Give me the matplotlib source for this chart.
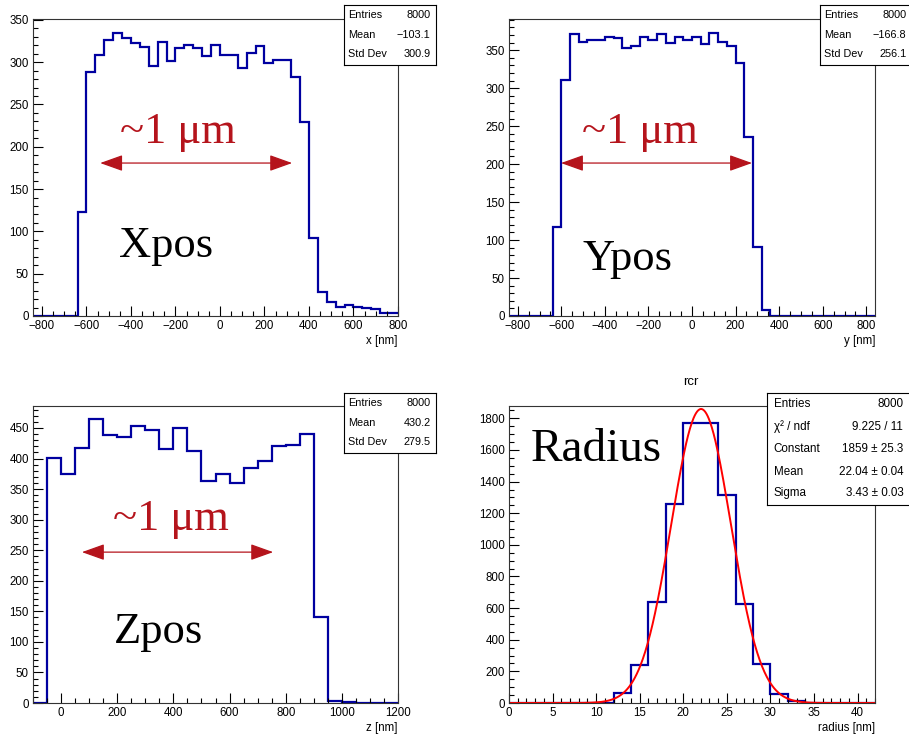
import numpy as np
import matplotlib
matplotlib.use("Agg")
import matplotlib.pyplot as plt
from matplotlib.ticker import MultipleLocator

plt.rcParams['font.family'] = ['Liberation Sans', 'DejaVu Sans']

# --- histogram contents ---
x_edges = np.arange(-840, 801, 40)
x_counts = [0, 0, 0, 0, 0,
            123, 288, 309, 326, 334, 329, 323, 318, 295, 324, 301, 317, 320,
            317, 307, 320, 309, 308, 293, 311, 319, 299, 302, 303, 282, 229,
            92, 28, 16, 11, 12.5, 10.6, 10, 8, 3, 3]

y_edges = np.arange(-840, 841, 40)
y_counts = [0, 0, 0, 0, 0,
            117.5, 310.5, 371.5, 361, 362.7, 364, 367, 366, 352.6, 356, 367,
            363.6, 370.6, 358.8, 367, 362.7, 367, 358, 372.8, 361, 355, 333,
            236, 91, 8,
            0, 0, 0, 0, 0, 0, 0, 0, 0, 0, 0, 0]

z_edges = np.arange(-100, 1201, 50)
z_counts = [0, 401, 375, 418, 464, 439, 436, 453, 447, 415, 450, 412, 364,
            375, 360, 385, 396, 421, 423, 441, 140, 3, 1, 0, 0, 0]

r_edges = np.arange(0, 43, 2)
r_counts = [0, 0, 0, 0, 0, 3, 61, 240, 636, 1257, 1773, 1773, 1318, 627,
            244, 59, 10, 0, 0, 0, 0]

# gaussian fit parameters (from the stats box)
fit_const, fit_mean, fit_sigma = 1859, 22.04, 3.43

stats_x = [("Entries", "8000"), ("Mean", "\u2212103.1"), ("Std Dev", "300.9")]
stats_y = [("Entries", "8000"), ("Mean", "\u2212166.8"), ("Std Dev", "256.1")]
stats_z = [("Entries", "8000"), ("Mean", "430.2"), ("Std Dev", "279.5")]
stats_r = [("Entries", "8000"), ("\u03c7\u00b2 / ndf", "9.225 / 11"),
           ("Constant", "1859 \u00b1 25.3"), ("Mean", "22.04 \u00b1 0.04"),
           ("Sigma", "3.43 \u00b1 0.03")]

W, H = 909, 734
fig = plt.figure(figsize=(W / 100, H / 100), dpi=100)

HIST_COL = '#0000a0'
ARROW_COL = '#b5141c'
SERIF = ['Liberation Serif', 'DejaVu Serif']


def px_axes(left, top, right, bottom, **kw):
    return fig.add_axes([left / W, 1 - bottom / H, (right - left) / W, (bottom - top) / H], **kw)


def style(ax, xmaj, xmin, ymaj, ymin, xlab):
    ax.xaxis.set_major_locator(MultipleLocator(xmaj))
    ax.xaxis.set_minor_locator(MultipleLocator(xmin))
    ax.yaxis.set_major_locator(MultipleLocator(ymaj))
    ax.yaxis.set_minor_locator(MultipleLocator(ymin))
    ax.tick_params(which='both', direction='in', top=False, right=False,
                   labelsize=8.3, width=0.8, colors='black')
    ax.tick_params(which='major', length=7, pad=3)
    ax.tick_params(which='minor', length=3.5)
    for s in ax.spines.values():
        s.set_color('#333333')
        s.set_linewidth(0.8)
    ax.text(1.0, -0.085, xlab, transform=ax.transAxes, ha='right', va='center', fontsize=8.3)


def stats_box(left, top, right, bottom, rows, fs, ys):
    b = px_axes(left, top, right, bottom)
    b.set_xticks([])
    b.set_yticks([])
    for s in b.spines.values():
        s.set_color('black')
        s.set_linewidth(0.8)
    for (name, val), yy in zip(rows, ys):
        b.text(0.045, yy, name, transform=b.transAxes, ha='left', va='center', fontsize=fs)
        b.text(0.94, yy, val, transform=b.transAxes, ha='right', va='center', fontsize=fs)


def width_arrow(ax, x0, x1, y):
    ax.annotate('', xy=(x0, y), xytext=(x1, y), xycoords='axes fraction',
                textcoords='axes fraction',
                arrowprops=dict(arrowstyle='<|-|>,head_length=1.4,head_width=0.5',
                                color=ARROW_COL, lw=0.9, shrinkA=0, shrinkB=0,
                                mutation_scale=10))


def labels(ax, tx, ty, name, nx, ny, fs=32):
    ax.text(tx, ty, '~1 \u03bcm', transform=ax.transAxes, ha='left', va='baseline',
            fontsize=fs, color=ARROW_COL, family=SERIF)
    ax.text(nx, ny, name, transform=ax.transAxes, ha='left', va='baseline',
            fontsize=fs, color='black', family=SERIF)


# --- Xpos ---
ax1 = px_axes(33, 19, 398, 316)
ax1.stairs(x_counts, x_edges, color=HIST_COL, lw=1.6, baseline=None)
ax1.set_xlim(-840, 800)
ax1.set_ylim(0, 351)
style(ax1, 200, 50, 50, 10, 'x [nm]')
width_arrow(ax1, 0.184, 0.710, 0.515)
labels(ax1, 0.238, 0.582, 'Xpos', 0.236, 0.199)

# --- Ypos ---
ax2 = px_axes(509, 19, 875, 316)
ax2.stairs(y_counts, y_edges, color=HIST_COL, lw=1.6, baseline=None)
ax2.set_xlim(-840, 840)
ax2.set_ylim(0, 391)
style(ax2, 200, 50, 50, 10, 'y [nm]')
width_arrow(ax2, 0.142, 0.664, 0.515)
labels(ax2, 0.2, 0.582, 'Ypos', 0.202, 0.155)

# --- Zpos ---
ax3 = px_axes(33, 406, 398, 703)
ax3.stairs(z_counts, z_edges, color=HIST_COL, lw=1.6, baseline=None)
ax3.set_xlim(-100, 1200)
ax3.set_ylim(0, 486)
style(ax3, 200, 50, 50, 10, 'z [nm]')
width_arrow(ax3, 0.134, 0.658, 0.508)
labels(ax3, 0.219, 0.582, 'Zpos', 0.222, 0.202)

# --- Radius ---
ax4 = px_axes(509, 406, 875, 703)
ax4.stairs(r_counts, r_edges, color=HIST_COL, lw=1.6, baseline=None)
rr = np.linspace(0, 42, 600)
ax4.plot(rr, fit_const * np.exp(-0.5 * ((rr - fit_mean) / fit_sigma) ** 2),
         color='#ff0000', lw=1.4)
ax4.set_xlim(0, 42)
ax4.set_ylim(0, 1878)
style(ax4, 5, 1, 200, 50, 'radius [nm]')
ax4.text(0.06, 0.815, 'Radius', transform=ax4.transAxes, ha='left', va='baseline',
         fontsize=34, family=SERIF)
fig.text(691 / W, 1 - 382 / H, 'rcr', ha='center', va='center', fontsize=9.5)

# stats boxes
stats_box(344, 5, 436, 65, stats_x, 7.8, [0.833, 0.5, 0.183])
stats_box(820, 5, 912, 65, stats_y, 7.8, [0.833, 0.5, 0.183])
stats_box(344, 393, 436, 453, stats_z, 7.8, [0.833, 0.5, 0.183])
stats_box(767, 393, 912, 505, stats_r, 8.4, [0.902, 0.696, 0.5, 0.295, 0.107])

fig.savefig('out.png', dpi=100)
